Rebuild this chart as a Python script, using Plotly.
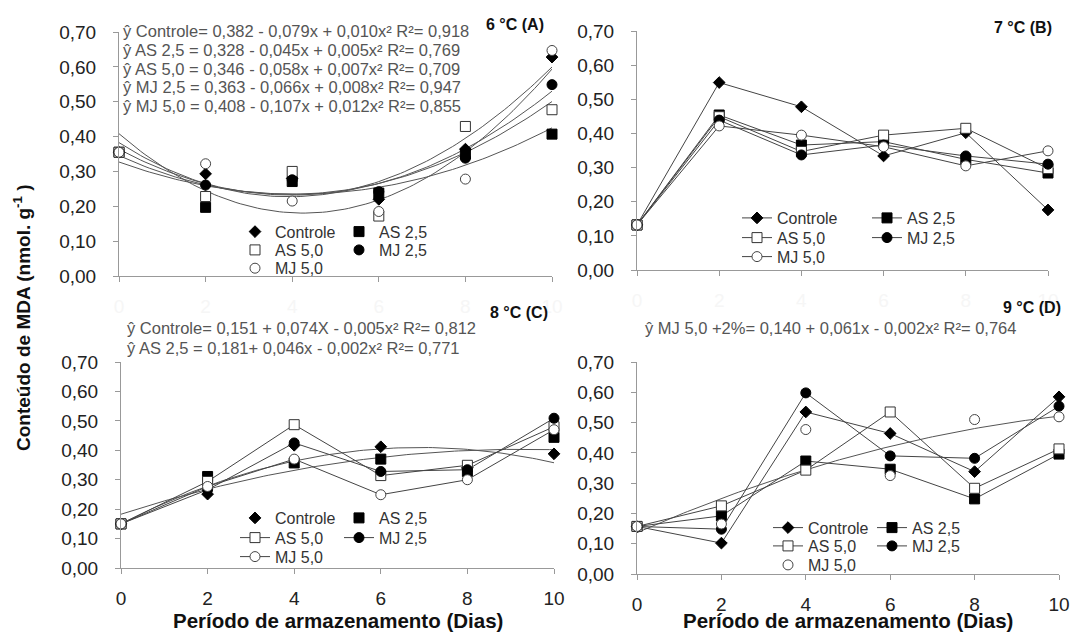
import numpy as np
import plotly.graph_objects as go

W, H = 1073, 632
FONT = "Liberation Sans, Arial, sans-serif"

days = [0, 2, 4, 6, 8, 10]
series_names = ["Controle", "AS 2,5", "AS 5,0", "MJ 2,5", "MJ 5,0"]
y_ticks = [0.0, 0.1, 0.2, 0.3, 0.4, 0.5, 0.6, 0.7]

# 6 °C (A)
a_controle = [0.355, 0.293, 0.280, 0.220, 0.364, 0.628]
a_as25 = [0.355, 0.197, 0.271, 0.238, 0.350, 0.407]
a_as50 = [0.355, 0.228, 0.300, 0.172, 0.429, 0.477]
a_mj25 = [0.355, 0.261, 0.276, 0.242, 0.338, 0.549]
a_mj50 = [0.355, 0.322, 0.215, 0.185, 0.278, 0.647]

# 7 °C (B)
b_controle = [0.132, 0.549, 0.478, 0.334, 0.402, 0.176]
b_as25 = [0.132, 0.454, 0.366, 0.376, 0.324, 0.284]
b_as50 = [0.132, 0.449, 0.347, 0.395, 0.415, 0.297]
b_mj25 = [0.132, 0.439, 0.337, 0.366, 0.334, 0.310]
b_mj50 = [0.132, 0.422, 0.395, 0.361, 0.305, 0.349]

# 8 °C (C)
c_controle = [0.150, 0.251, 0.417, 0.412, 0.340, 0.388]
c_as25 = [0.150, 0.311, 0.357, 0.370, 0.328, 0.444]
c_as50 = [0.150, 0.294, 0.487, 0.314, 0.349, 0.480]
c_mj25 = [0.150, 0.266, 0.425, 0.328, 0.334, 0.509]
c_mj50 = [0.150, 0.277, 0.370, 0.249, 0.300, 0.470]

# 9 °C (D)
d_controle = [0.157, 0.102, 0.535, 0.464, 0.338, 0.585]
d_as25 = [0.157, 0.192, 0.373, 0.346, 0.248, 0.396]
d_as50 = [0.157, 0.225, 0.343, 0.535, 0.283, 0.413]
d_mj25 = [0.157, 0.148, 0.598, 0.390, 0.382, 0.554]
d_mj50 = [0.157, 0.165, 0.477, 0.325, 0.510, 0.519]

panel_titles = ["6 °C (A)", "7 °C (B)", "8 °C (C)", "9 °C (D)"]
eq_a = [
    "ŷ Controle= 0,382 - 0,079x + 0,010x² R²= 0,918",
    "ŷ AS 2,5 = 0,328 - 0,045x + 0,005x² R²= 0,769",
    "ŷ AS 5,0 = 0,346 - 0,058x + 0,007x² R²= 0,709",
    "ŷ MJ 2,5 = 0,363 - 0,066x + 0,008x² R²= 0,947",
    "ŷ MJ 5,0 = 0,408 - 0,107x + 0,012x² R²= 0,855",
]
eq_c = [
    "ŷ Controle= 0,151 + 0,074X - 0,005x² R²= 0,812",
    "ŷ AS 2,5 = 0,181+ 0,046x - 0,002x² R²= 0,771",
]
eq_d = ["ŷ MJ 5,0 +2%= 0,140 + 0,061x - 0,002x² R²= 0,764"]
x_title = "Período de armazenamento (Dias)"
y_title = "Conteúdo de MDA (nmol. g<sup>-1</sup> )"

panels = [
    [a_controle, a_as25, a_as50, a_mj25, a_mj50],
    [b_controle, b_as25, b_as50, b_mj25, b_mj50],
    [c_controle, c_as25, c_as50, c_mj25, c_mj50],
    [d_controle, d_as25, d_as50, d_mj25, d_mj50],
]
# which series are drawn with connecting lines, and which get quadratic trendlines
line_modes = [
    [False] * 5,
    [True] * 5,
    [False, False, True, True, True],
    [True, True, True, True, False],
]
trend_flags = [
    [True] * 5,
    [False] * 5,
    [True, True, False, False, False],
    [False, False, False, False, True],
]

# pixel geometry of each panel: x0, x1, ytop(0.70), ybottom(0.00)
geom = [
    (119, 552, 32, 276),
    (637, 1048, 31, 270),
    (121, 554, 362, 568),
    (637, 1059, 362, 574),
]

marker_styles = [
    dict(symbol="diamond", size=9, color="black", line=dict(color="black", width=1)),
    dict(symbol="square", size=10, color="black", line=dict(color="black", width=1)),
    dict(symbol="square", size=10, color="white", line=dict(color="#333", width=1)),
    dict(symbol="circle", size=10, color="black", line=dict(color="black", width=1)),
    dict(symbol="circle", size=10, color="white", line=dict(color="#444", width=1)),
]
rows_of_series = [0, 0, 1, 1, 2]

# legend positions: start x px, row center y px, entrywidth
leg_geom = [
    (235, [231.7, 250.0, 268.3], 59),
    (737, [218.0, 237.7, 256.7], 85),
    (235, [518.0, 537.7, 556.7], 59),
    (768, [527.7, 546.0, 565.0], 59),
]


def px(x):
    return x / W


def py(y):
    return 1 - y / H


fig = go.Figure()
layout = dict(
    width=W, height=H, margin=dict(l=0, r=0, t=0, b=0, pad=0, autoexpand=False),
    paper_bgcolor="white", plot_bgcolor="white",
    separators=",.", font=dict(family=FONT, color="#222"),
    showlegend=True,
)
annotations = []

xs_fit = np.linspace(0, 10, 101)

for p in range(4):
    x0, x1, yt, yb = geom[p]
    sfx = "" if p == 0 else str(p + 1)
    xa = "x" + sfx
    ya = "y" + sfx
    show_xlabels = p >= 2
    layout["xaxis" + sfx] = dict(
        domain=[px(x0), px(x1)], range=[0, 10], anchor=ya, automargin=False,
        tickvals=days, ticks="outside", ticklen=5, tickcolor="#999",
        showline=True, linecolor="#999", linewidth=1, showgrid=False, zeroline=False,
        tickfont=dict(size=19, color="#222" if show_xlabels else "#f6f6f6", family=FONT),
        ticklabelstandoff=8,
    )
    layout["yaxis" + sfx] = dict(
        domain=[py(yb), py(yt)], range=[0, 0.7], anchor=xa, automargin=False,
        tickvals=y_ticks, tickformat=".2f", ticks="outside", ticklen=5, tickcolor="#999",
        showline=True, linecolor="#999", linewidth=1, showgrid=False, zeroline=False,
        tickfont=dict(size=19, color="#222", family=FONT), ticklabelstandoff=13,
    )
    # trendlines
    for s in range(5):
        if trend_flags[p][s]:
            coef = np.polyfit(days, panels[p][s], 2)
            fig.add_trace(go.Scatter(
                x=xs_fit, y=np.polyval(coef, xs_fit), mode="lines",
                line=dict(color="#555", width=1), xaxis=xa, yaxis=ya,
                showlegend=False, hoverinfo="skip",
            ))
    # data
    for s in range(5):
        leg_idx = p * 3 + rows_of_series[s] + 1
        leg_name = "legend" if leg_idx == 1 else f"legend{leg_idx}"
        fig.add_trace(go.Scatter(
            x=days, y=panels[p][s], name=series_names[s],
            mode="lines+markers" if line_modes[p][s] else "markers",
            line=dict(color="#444", width=1), marker=marker_styles[s],
            xaxis=xa, yaxis=ya, legend=leg_name, cliponaxis=False,
        ))
    lx, lys, ew = leg_geom[p]
    for r in range(3):
        leg_idx = p * 3 + r + 1
        leg_name = "legend" if leg_idx == 1 else f"legend{leg_idx}"
        layout[leg_name] = dict(
            x=px(lx), y=py(lys[r]), xanchor="left", yanchor="middle",
            orientation="h", entrywidth=ew, entrywidthmode="pixels",
            itemwidth=30, bgcolor="rgba(0,0,0,0)", borderwidth=0,
            font=dict(size=16, color="#333", family=FONT), tracegroupgap=0,
            itemclick=False, itemdoubleclick=False,
        )

# panel titles
title_pos = [(546, 25), (1054, 27), (550, 312), (1063, 308)]
for t, (tx, ty) in zip(panel_titles, title_pos):
    annotations.append(dict(
        text=f"<b>{t}</b>", x=px(tx), y=py(ty), xref="paper", yref="paper",
        xanchor="right", yanchor="middle", showarrow=False,
        font=dict(size=16, color="#111", family=FONT),
    ))

# equations
eq_sets = [
    (eq_a, 121, [30.7, 50.0, 68.5, 87.3, 106.0]),
    (eq_c, 125, [328.0, 348.0]),
    (eq_d, 643, [328.0]),
]
for lines, ex, eys in eq_sets:
    for line, ey in zip(lines, eys):
        annotations.append(dict(
            text=line, x=px(ex), y=py(ey), xref="paper", yref="paper",
            xanchor="left", yanchor="middle", showarrow=False,
            font=dict(size=16.5, color="#555", family=FONT),
        ))

# axis titles
for cx in [(121 + 554) / 2, (637 + 1059) / 2]:
    annotations.append(dict(
        text=f"<b>{x_title}</b>", x=px(cx), y=py(620), xref="paper", yref="paper",
        xanchor="center", yanchor="middle", showarrow=False,
        font=dict(size=20.5, color="#111", family=FONT),
    ))
annotations.append(dict(
    text=f"<b>{y_title}</b>", x=px(22), y=py(318), xref="paper", yref="paper",
    xanchor="center", yanchor="middle", showarrow=False, textangle=-90,
    font=dict(size=19, color="#111", family=FONT),
))

layout["annotations"] = annotations
fig.update_layout(**layout)
fig.write_html(
    "out.html",
    config={"displayModeBar": False},
    post_script="document.body.style.margin='0px';document.body.style.padding='0px';"
                "document.body.style.overflow='hidden';",
)
